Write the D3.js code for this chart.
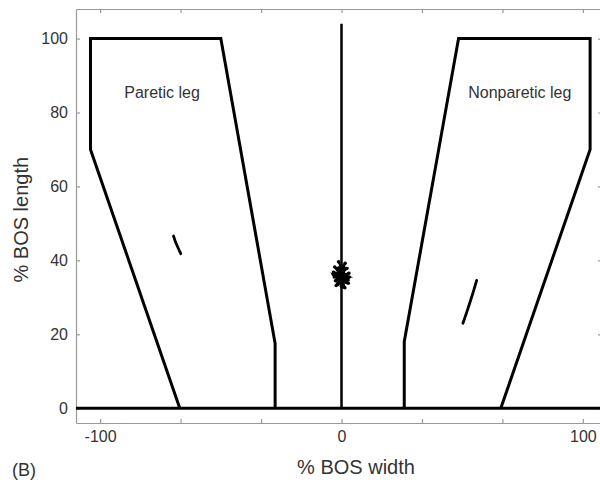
<!DOCTYPE html>
<html>
<head>
<meta charset="utf-8">
<script src="https://cdn.jsdelivr.net/npm/d3@7"></script>
<style>
  body { margin: 0; background: #fff; overflow: hidden; }
  text { font-family: 'Liberation Sans', Arial, sans-serif; fill: #333; }
</style>
</head>
<body>
<script>
const w = 600;
const h = 482;

// boundary of the base of support, one polyline per leg
const pareticLegX = [-67, -104, -104, -50, -27.5, -27.5];
const pareticLegY = [0, 70, 100, 100, 17.5, 0];
const nonpareticLegX = [26, 26, 48.5, 103, 103, 66];
const nonpareticLegY = [0, 18, 100, 100, 70, 0];

// centre of pressure traces
const pareticTraceX = [-69.6, -68.8, -68, -67.3, -66.6];
const pareticTraceY = [46.6, 45, 43.8, 42.8, 41.8];
const nonpareticTraceX = [56, 54.6, 53.2, 51.8, 50.3];
const nonpareticTraceY = [34.6, 31.5, 28.6, 25.8, 23];
const centreX = [0.5, -2, 2.5, -1.5, 1, -3, 3, 0, -1, 2, -2.5, 1.5, -0.5, 3.2, -3.2, 0.8, -1.8, 2.2, -0.2, 1.2, -2.8, 2.8, -1.2, 1.8, -2.2, 0.2, 2.6, -3.4, 1.4, -0.8];
const centreY = [38.5, 36, 35, 33.5, 37.5, 35.5, 36.5, 33, 38, 34, 34.5, 39.2, 35, 35.5, 36.8, 32.8, 37.8, 37.8, 36.2, 34.2, 38.2, 33.8, 39.6, 35.8, 33.2, 37, 34.8, 36.2, 32.6, 36.6];

const xTicks = [-100, -66.67, -33.33, 0, 33.33, 66.67, 100];
const xTickLabels = ['-100', '', '', '0', '', '', '100'];
const yTicks = [0, 20, 40, 60, 80, 100];

const x = d3.scaleLinear().domain([-110, 110]).range([76, 607]);
const y = d3.scaleLinear().domain([-4, 108]).range([423, 9]);
const rightEdge = 602; // the box's right side falls just outside the picture

const svg = d3.select('body')
  .append('svg')
  .attr('width', w)
  .attr('height', h)
  .style('display', 'block');

// axes box with inward ticks
const axisColor = '#999';
const gBottom = svg.append('g')
  .attr('transform', `translate(0,${y(-4)})`)
  .call(d3.axisBottom(x).tickValues(xTicks).tickSizeInner(-4).tickSizeOuter(0)
    .tickFormat((d, i) => xTickLabels[i]).tickPadding(8));
const gTop = svg.append('g')
  .attr('transform', `translate(0,${y(108)})`)
  .call(d3.axisTop(x).tickValues(xTicks).tickSizeInner(-4).tickSizeOuter(0).tickFormat(''));
const gLeft = svg.append('g')
  .attr('transform', `translate(${x(-110)},0)`)
  .call(d3.axisLeft(y).tickValues(yTicks).tickSizeInner(-4).tickSizeOuter(0).tickPadding(8));
const gRight = svg.append('g')
  .attr('transform', `translate(${rightEdge},0)`)
  .call(d3.axisRight(y).tickValues(yTicks).tickSizeInner(-4).tickSizeOuter(0).tickFormat(''));

[gBottom, gTop, gLeft, gRight].forEach(g => {
  g.selectAll('path, line').attr('stroke', axisColor).attr('stroke-width', 1.2);
  g.selectAll('text')
    .style('font-family', "'Liberation Sans', Arial, sans-serif")
    .style('font-size', '16px')
    .attr('fill', '#333');
});

const line = d3.line()
  .x(d => x(d[0]))
  .y(d => y(d[1]));

const zip = (xs, ys) => xs.map((v, i) => [v, ys[i]]);

// baseline and midline
svg.append('path')
  .attr('d', line([[-110, 0], [110, 0]]))
  .attr('stroke', '#000').attr('stroke-width', 3).attr('fill', 'none');
svg.append('path')
  .attr('d', line([[0, 0], [0, 104]]))
  .attr('stroke', '#000').attr('stroke-width', 2.5).attr('fill', 'none');

// leg outlines
[zip(pareticLegX, pareticLegY), zip(nonpareticLegX, nonpareticLegY)].forEach(pts => {
  svg.append('path')
    .attr('d', line(pts))
    .attr('stroke', '#000')
    .attr('stroke-width', 3)
    .attr('stroke-linejoin', 'miter')
    .attr('fill', 'none');
});

// traces
[zip(pareticTraceX, pareticTraceY), zip(nonpareticTraceX, nonpareticTraceY)].forEach(pts => {
  svg.append('path')
    .attr('d', line(pts))
    .attr('stroke', '#000')
    .attr('stroke-width', 2.8)
    .attr('stroke-linecap', 'round')
    .attr('fill', 'none');
});

svg.append('path')
  .attr('d', line(zip(centreX, centreY)))
  .attr('stroke', '#000')
  .attr('stroke-width', 2)
  .attr('fill', 'none');
svg.selectAll('circle.c')
  .data(zip(centreX, centreY))
  .enter()
  .append('circle')
  .attr('class', 'c')
  .attr('cx', d => x(d[0]))
  .attr('cy', d => y(d[1]))
  .attr('r', 1.8)
  .attr('fill', '#000');

// labels
svg.append('text')
  .attr('x', x(-90)).attr('y', y(84))
  .style('font-size', '16px')
  .text('Paretic leg');
svg.append('text')
  .attr('x', x(52.5)).attr('y', y(84))
  .style('font-size', '16px')
  .text('Nonparetic leg');

svg.append('text')
  .attr('x', x(6)).attr('y', 474)
  .attr('text-anchor', 'middle')
  .style('font-size', '20px')
  .text('% BOS width');
svg.append('text')
  .attr('transform', `translate(28,${y(51)}) rotate(-90)`)
  .attr('text-anchor', 'middle')
  .style('font-size', '20px')
  .text('% BOS length');
svg.append('text')
  .attr('x', 12).attr('y', 476)
  .style('font-size', '18px')
  .text('(B)');
</script>
</body>
</html>
